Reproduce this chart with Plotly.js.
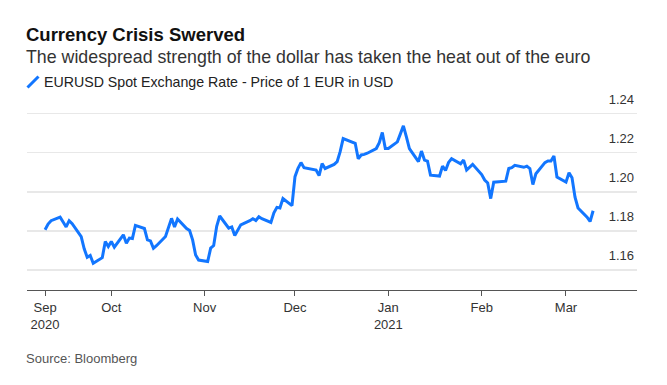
<!DOCTYPE html>
<html>
<head>
<meta charset="utf-8">
<script src="https://cdn.plot.ly/plotly-3.0.1.min.js"></script>
<style>
  html, body { margin: 0; padding: 0; background: #fff; }
  #chart { width: 667px; height: 385px; }
</style>
</head>
<body>
<div id="chart"></div>
<script>
// ---- Data ----
const chartTitle = 'Currency Crisis Swerved';
const chartSubtitle = 'The widespread strength of the dollar has taken the heat out of the euro';
const seriesName = 'EURUSD Spot Exchange Rate - Price of 1 EUR in USD';
const sourceText = 'Source: Bloomberg';

const dates = [
  '2020-09-09','2020-09-10','2020-09-11','2020-09-14','2020-09-15','2020-09-16','2020-09-17','2020-09-18',
  '2020-09-21','2020-09-22','2020-09-23','2020-09-24','2020-09-25','2020-09-28','2020-09-29','2020-09-30',
  '2020-10-01','2020-10-02','2020-10-05','2020-10-06','2020-10-07','2020-10-08','2020-10-09',
  '2020-10-12','2020-10-13','2020-10-14','2020-10-15','2020-10-16','2020-10-19','2020-10-20','2020-10-21',
  '2020-10-22','2020-10-23','2020-10-26','2020-10-27','2020-10-28','2020-10-29','2020-10-30',
  '2020-11-02','2020-11-03','2020-11-04','2020-11-05','2020-11-06','2020-11-09','2020-11-10','2020-11-11',
  '2020-11-12','2020-11-13','2020-11-16','2020-11-17','2020-11-18','2020-11-19','2020-11-20',
  '2020-11-23','2020-11-24','2020-11-25','2020-11-26','2020-11-27','2020-11-30',
  '2020-12-01','2020-12-02','2020-12-03','2020-12-04','2020-12-07','2020-12-08','2020-12-09','2020-12-10',
  '2020-12-11','2020-12-14','2020-12-15','2020-12-16','2020-12-17','2020-12-18','2020-12-21','2020-12-22',
  '2020-12-23','2020-12-24','2020-12-25','2020-12-28','2020-12-29','2020-12-30','2020-12-31',
  '2021-01-01','2021-01-04','2021-01-05','2021-01-06','2021-01-07','2021-01-08','2021-01-11','2021-01-12',
  '2021-01-13','2021-01-14','2021-01-15','2021-01-18','2021-01-19','2021-01-20','2021-01-21','2021-01-22',
  '2021-01-25','2021-01-26','2021-01-27','2021-01-28','2021-01-29',
  '2021-02-01','2021-02-02','2021-02-03','2021-02-04','2021-02-05','2021-02-08','2021-02-09','2021-02-10',
  '2021-02-11','2021-02-12','2021-02-15','2021-02-16','2021-02-17','2021-02-18','2021-02-19',
  '2021-02-22','2021-02-23','2021-02-24','2021-02-25','2021-02-26',
  '2021-03-01','2021-03-02','2021-03-03','2021-03-04','2021-03-05','2021-03-08','2021-03-09','2021-03-10'
];

const eurusd = [
  1.1806,1.1835,1.1852,1.1870,1.1845,1.1820,1.1852,1.1837,
  1.1771,1.1708,1.1665,1.1674,1.1634,1.1663,1.1746,1.1720,
  1.1746,1.1717,1.1780,1.1737,1.1763,1.1761,1.1828,
  1.1812,1.1754,1.1749,1.1711,1.1724,1.1771,1.1818,1.1864,
  1.1820,1.1861,1.1812,1.1802,1.1754,1.1677,1.1651,
  1.1643,1.1712,1.1725,1.1823,1.1876,1.1814,1.1820,1.1776,
  1.1802,1.1831,1.1852,1.1862,1.1853,1.1872,1.1862,
  1.1843,1.1892,1.1920,1.1917,1.1965,1.1929,
  1.2077,1.2120,1.2149,1.2123,1.2115,1.2111,1.2083,1.2144,
  1.2119,1.2140,1.2154,1.2205,1.2272,1.2266,1.2248,1.2169,
  1.2188,1.2191,1.2197,1.2221,1.2251,1.2303,1.2221,
  1.2221,1.2255,1.2296,1.2337,1.2280,1.2221,1.2154,1.2208,
  1.2162,1.2157,1.2085,1.2080,1.2131,1.2109,1.2150,1.2169,
  1.2143,1.2162,1.2111,1.2125,1.2140,
  1.2088,1.2060,1.2045,1.1965,1.2049,1.2052,1.2054,1.2119,
  1.2123,1.2135,1.2125,1.2131,1.2119,1.2037,1.2092,
  1.2149,1.2157,1.2157,1.2183,1.2075,
  1.2049,1.2097,1.2071,1.1972,1.1917,1.1870,1.1848,1.1903
];

const xTickVals = ['2020-09-09','2020-10-01','2020-11-01','2020-12-01','2021-01-01','2021-02-01','2021-03-01'];
const xTickText = ['Sep<br>2020','Oct','Nov','Dec','Jan<br>2021','Feb','Mar'];
const yTickVals = [1.16, 1.18, 1.20, 1.22, 1.24];
const yTickText = ['1.16','1.18','1.20','1.22','1.24'];

// ---- Styling ----
const BLUE = '#1276ff';
const FONT = 'Liberation Sans, Arial, sans-serif';
const M = { l: 27, r: 30, t: 88, b: 95 };
const W = 667, H = 385;
const PW = W - M.l - M.r, PH = H - M.t - M.b;
const px = x => (x - M.l) / PW;          // pixel -> paper x
const py = y => (H - M.b - y) / PH;      // pixel -> paper y

const trace = {
  type: 'scatter',
  mode: 'lines',
  name: seriesName,
  x: dates,
  y: eurusd,
  line: { color: BLUE, width: 3, shape: 'linear' },
  hoverinfo: 'x+y'
};

const layout = {
  width: W, height: H,
  margin: M,
  paper_bgcolor: '#fff',
  plot_bgcolor: '#fff',
  showlegend: false,
  font: { family: FONT, color: '#333', size: 13 },
  title: {
    text: '<b>' + chartTitle + '</b>',
    font: { family: FONT, size: 18.5, color: '#111' },
    xref: 'container', yref: 'container',
    x: 26 / W, xanchor: 'left',
    y: 1 - 28 / H, yanchor: 'top',
    pad: { t: 0, b: 0, l: 0, r: 0 }
  },
  xaxis: {
    type: 'date',
    range: ['2020-09-03 00:00', '2021-03-24 14:00'],
    tickmode: 'array',
    tickvals: xTickVals,
    ticktext: xTickText,
    ticks: 'outside', ticklen: 5, tickwidth: 1, tickcolor: '#555',
    showline: true, linecolor: '#555', linewidth: 1.3,
    showgrid: false, zeroline: false,
    tickfont: { family: FONT, size: 13, color: '#333' },
    fixedrange: true
  },
  yaxis: {
    side: 'right',
    range: [1.16 - 20 / 1956, 1.24 + 25.5 / 1956],
    tickmode: 'array',
    tickvals: yTickVals,
    ticktext: yTickText,
    ticklabelposition: 'inside top',
    ticklabelshift: -5,
    ticks: '',
    showline: false, zeroline: false,
    showgrid: true, gridcolor: '#e8e8e8', gridwidth: 1.5,
    tickfont: { family: FONT, size: 13, color: '#333' },
    fixedrange: true
  },
  shapes: [
    { type: 'line', xref: 'paper', yref: 'paper',
      x0: px(27.5), y0: py(87.5), x1: px(38.5), y1: py(76.5),
      line: { color: BLUE, width: 3 } }
  ],
  annotations: [
    { text: chartSubtitle, xref: 'paper', yref: 'paper', x: px(23.5), y: py(57), xanchor: 'left', yanchor: 'middle',
      showarrow: false, font: { family: FONT, size: 17.8, color: '#333' } },
    { text: seriesName, xref: 'paper', yref: 'paper', x: px(42), y: py(82), xanchor: 'left', yanchor: 'middle',
      showarrow: false, font: { family: FONT, size: 14.2, color: '#222' } },
    { text: sourceText, xref: 'paper', yref: 'paper', x: px(24), y: py(358), xanchor: 'left', yanchor: 'middle',
      showarrow: false, font: { family: FONT, size: 13, color: '#555' } }
  ]
};

Plotly.newPlot('chart', [trace], layout, { displayModeBar: false, staticPlot: true });
</script>
</body>
</html>
